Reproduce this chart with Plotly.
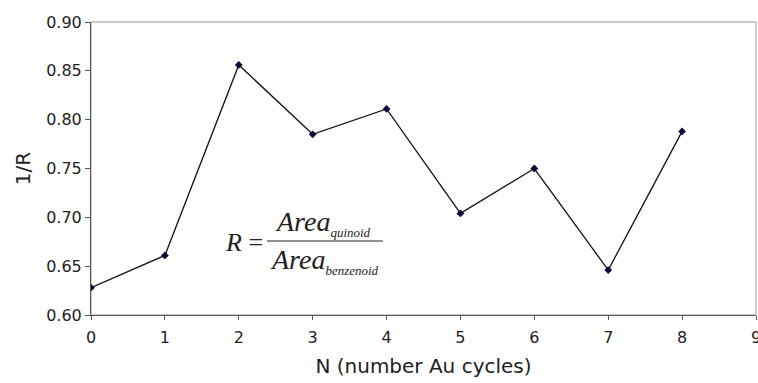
import plotly.graph_objects as go

# Number of Au deposition cycles and the measured inverse area ratio
cycles = [0, 1, 2, 3, 4, 5, 6, 7, 8]
inv_ratio = [0.628, 0.661, 0.856, 0.785, 0.811, 0.704, 0.750, 0.646, 0.788]

y_ticks = [0.60, 0.65, 0.70, 0.75, 0.80, 0.85, 0.90]
x_ticks = [0, 1, 2, 3, 4, 5, 6, 7, 8, 9]

fig = go.Figure()
fig.add_trace(go.Scatter(
    x=cycles, y=inv_ratio, mode="lines+markers",
    line=dict(color="#111111", width=1.3),
    marker=dict(symbol="diamond", size=6, color="#0a0a3a"),
    showlegend=False,
))

sans = "DejaVu Sans, Arial, sans-serif"
font_axis = dict(family=sans, size=16, color="#222222")

fig.update_layout(
    width=758, height=383,
    margin=dict(l=91, r=2, t=22, b=68),
    paper_bgcolor="white", plot_bgcolor="white",
    xaxis=dict(
        range=[0, 9], tickvals=x_ticks, ticktext=[str(v) for v in x_ticks],
        showgrid=False, zeroline=False, showline=True, linecolor="#555555", linewidth=1,
        ticks="outside", ticklen=4, tickcolor="#555555", tickfont=font_axis,
        ticklabelstandoff=4, ticklabeloverflow="allow", automargin=False,
        title=dict(text="N (number Au cycles)", font=dict(family=sans, size=20, color="#222222"), standoff=12),
    ),
    yaxis=dict(
        range=[0.60, 0.90], tickvals=y_ticks, ticktext=[f"{v:.2f}" for v in y_ticks],
        showgrid=False, zeroline=False, showline=True, linecolor="#555555", linewidth=1,
        ticks="outside", ticklen=5, tickcolor="#555555", tickfont=font_axis,
        ticklabeloverflow="allow", automargin=False,
        title=dict(text="1/R", font=dict(family=sans, size=20, color="#222222"), standoff=10),
    ),
    shapes=[
        # light frame around the plotting area
        dict(type="rect", xref="paper", yref="paper", x0=0, x1=1, y0=0, y1=1,
             line=dict(color="#999999", width=1), layer="below"),
        # fraction bar of the ratio definition
        dict(type="line", xref="paper", yref="paper",
             x0=(267 - 91) / 665, x1=(383 - 91) / 665,
             y0=(315 - 241) / 293, y1=(315 - 241) / 293,
             line=dict(color="#222222", width=1)),
    ],
)

times = "Liberation Serif, Times New Roman, serif"
fig.add_annotation(xref="paper", yref="paper", x=(244 - 91) / 665, y=(315 - 242) / 293,
                   text="<i>R</i> =", showarrow=False, xanchor="center", yanchor="middle",
                   font=dict(family=times, size=26, color="#222222"))
fig.add_annotation(xref="paper", yref="paper", x=(323 - 91) / 665, y=(315 - 223) / 293,
                   text="<i>Area<sub><span style='font-size:13px'>quinoid</span></sub></i>",
                   showarrow=False, xanchor="center", yanchor="middle",
                   font=dict(family=times, size=28, color="#222222"))
fig.add_annotation(xref="paper", yref="paper", x=(324 - 91) / 665, y=(315 - 261) / 293,
                   text="<i>Area<sub><span style='font-size:13px'>benzenoid</span></sub></i>",
                   showarrow=False, xanchor="center", yanchor="middle",
                   font=dict(family=times, size=28, color="#222222"))

fig.write_html("out.html")
